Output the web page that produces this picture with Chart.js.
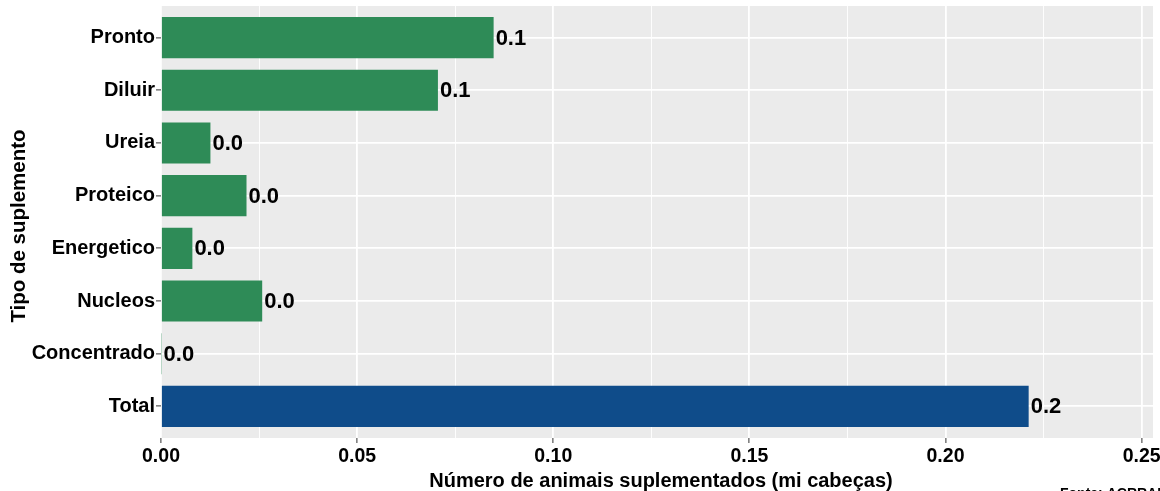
<!DOCTYPE html>
<html>
<head>
<meta charset="utf-8">
<script src="https://cdn.jsdelivr.net/npm/chart.js@4.4.1/dist/chart.umd.min.js"></script>
<style>
  body { margin: 0; background: #fff; }
  canvas { display: block; }
</style>
</head>
<body>
<canvas id="supChart" width="1160" height="491"></canvas>
<script>
const categories = ["Pronto", "Diluir", "Ureia", "Proteico", "Energetico", "Nucleos", "Concentrado", "Total"];
const values = [0.0848, 0.0706, 0.0126, 0.0218, 0.0080, 0.0258, 0.00015, 0.2212];
const barColors = ["#2E8B57", "#2E8B57", "#2E8B57", "#2E8B57", "#2E8B57", "#2E8B57", "#2E8B57", "#0F4C8A"];
const xTicks = [0, 0.05, 0.10, 0.15, 0.20, 0.25];
const xTitle = "Número de animais suplementados (mi cabeças)";
const yTitle = "Tipo de suplemento";
const caption = "Fonte: ACRRAM";

const FONT = "'Liberation Sans', Arial, sans-serif";

function isMajor(v) {
    return xTicks.some(t => Math.abs(t - v) < 1e-6);
}

const panelBg = {
    id: 'panelBg',
    beforeDraw(chart) {
        const { ctx, chartArea: a } = chart;
        ctx.save();
        ctx.fillStyle = '#EBEBEB';
        ctx.fillRect(a.left, a.top, a.right - a.left, a.bottom - a.top);
        ctx.restore();
    }
};

const textLayer = {
    id: 'textLayer',
    afterDatasetsDraw(chart) {
        const { ctx, chartArea: a } = chart;
        const meta = chart.getDatasetMeta(0);
        ctx.save();
        ctx.fillStyle = '#000';
        ctx.font = 'bold 22px ' + FONT;
        ctx.textAlign = 'left';
        ctx.textBaseline = 'middle';
        meta.data.forEach((bar, i) => {
            ctx.fillText(values[i].toFixed(1), bar.x + 2, bar.y + 1);
        });

        ctx.font = 'bold 20px ' + FONT;
        ctx.textAlign = 'center';
        ctx.fillText(xTitle, 661, 481);

        ctx.font = 'bold 20.5px ' + FONT;
        ctx.translate(19, 226);
        ctx.rotate(-Math.PI / 2);
        ctx.fillText(yTitle, 0, 0);
        ctx.restore();

        ctx.save();
        ctx.fillStyle = '#000';
        ctx.font = 'bold 14px ' + FONT;
        ctx.textAlign = 'left';
        ctx.textBaseline = 'top';
        ctx.fillText(caption, 1060, 487);
        ctx.restore();
    }
};

new Chart(document.getElementById('supChart'), {
    type: 'bar',
    data: {
        datasets: [{
            data: values.map((v, i) => ({ x: v, y: i })),
            backgroundColor: barColors,
            borderWidth: 0,
            barPercentage: 0.78,
            categoryPercentage: 1
        }]
    },
    options: {
        indexAxis: 'y',
        responsive: false,
        animation: false,
        devicePixelRatio: 1,
        layout: { padding: { top: 6, right: 7, left: 0, bottom: 0 } },
        plugins: {
            legend: { display: false },
            tooltip: { enabled: false }
        },
        scales: {
            x: {
                type: 'linear',
                min: 0,
                max: 0.2529,
                border: { display: false },
                afterFit: s => {
                    s.height = 53;
                    s.paddingLeft = 0;
                    s.paddingRight = 0;
                },
                grid: {
                    color: '#FFFFFF',
                    lineWidth: c => isMajor(c.tick.value) ? 1.8 : 0.9,
                    tickColor: c => isMajor(c.tick.value) ? '#333333' : 'rgba(0,0,0,0)',
                    tickWidth: 1,
                    tickLength: 5
                },
                ticks: {
                    stepSize: 0.025,
                    includeBounds: false,
                    autoSkip: false,
                    maxRotation: 0,
                    padding: 2,
                    color: '#000',
                    font: { family: FONT, size: 19.5, weight: 'bold' },
                    callback: v => isMajor(v) ? v.toFixed(2) : ''
                }
            },
            y: {
                type: 'linear',
                reverse: true,
                offset: false,
                min: -0.6,
                max: 7.6,
                border: { display: false },
                afterFit: s => {
                    s.width = 161;
                    s.paddingTop = 0;
                    s.paddingBottom = 0;
                },
                grid: {
                    offset: false,
                    color: '#FFFFFF',
                    lineWidth: 1.8,
                    tickColor: '#333333',
                    tickWidth: 1,
                    tickLength: 5
                },
                ticks: {
                    stepSize: 1,
                    includeBounds: false,
                    autoSkip: false,
                    padding: 1,
                    color: '#000',
                    font: { family: FONT, size: 20, weight: 'bold' },
                    callback: v => categories[v] || ''
                }
            }
        }
    },
    plugins: [panelBg, textLayer]
});
</script>
</body>
</html>
